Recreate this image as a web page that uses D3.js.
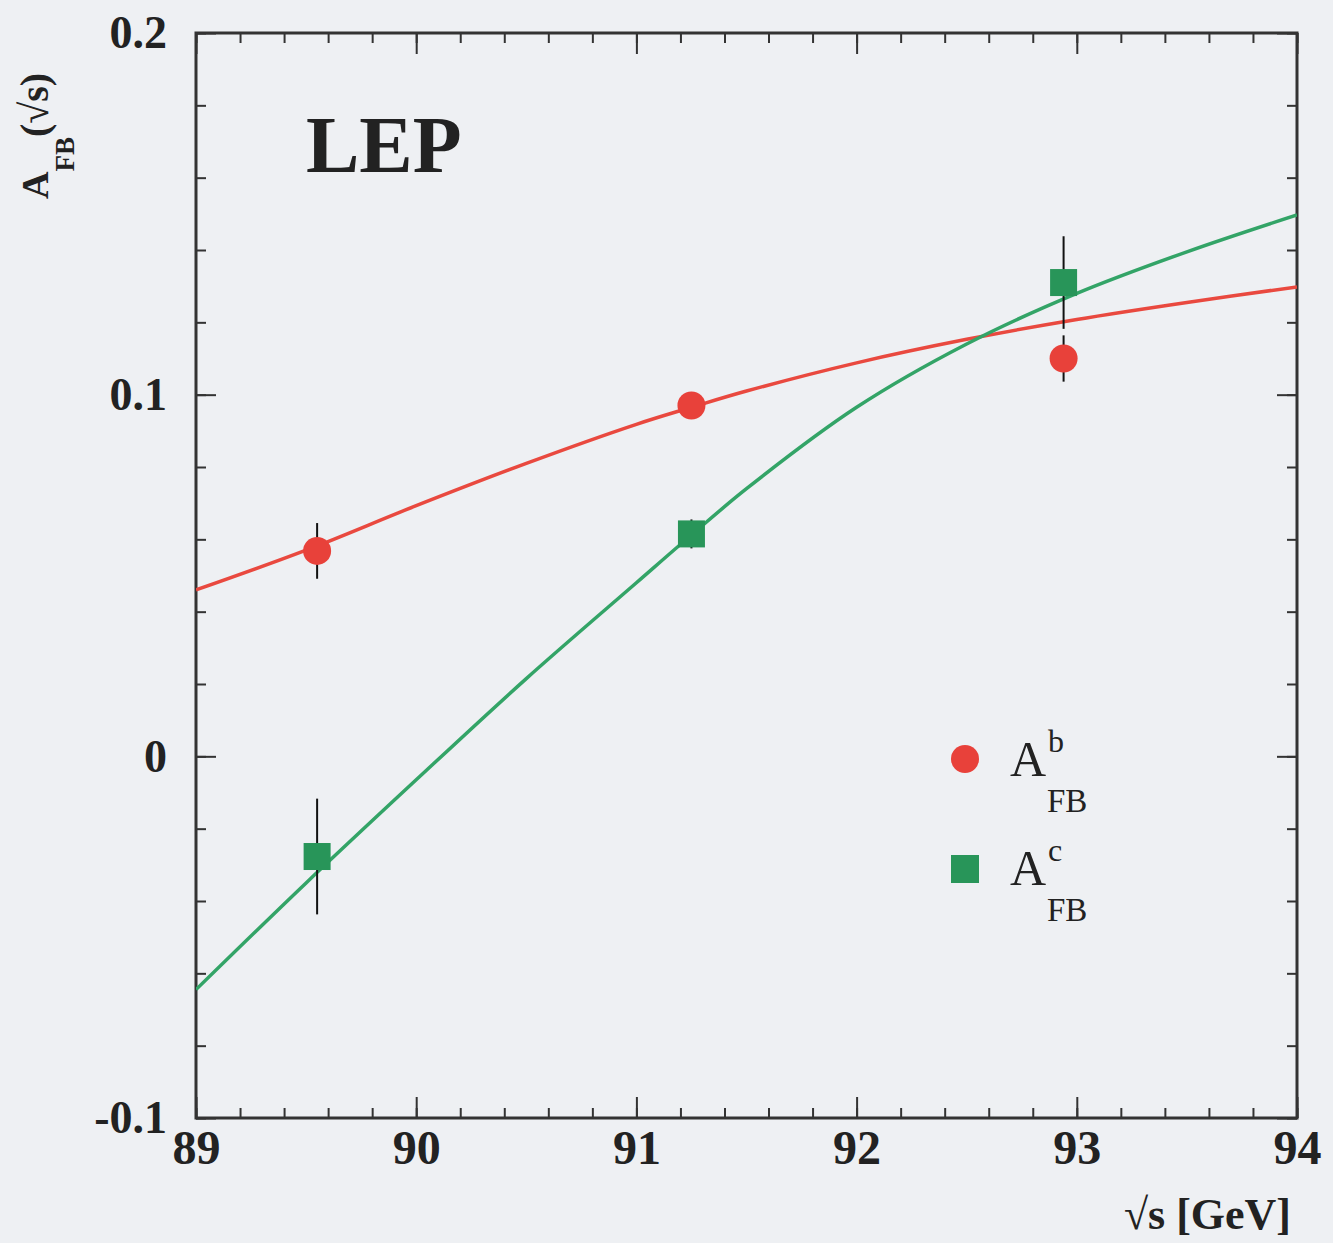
<!DOCTYPE html>
<html>
<head>
<meta charset="utf-8">
<script src="https://cdn.jsdelivr.net/npm/d3@7"></script>
<style>
  html, body { margin: 0; padding: 0; background: #eef0f3; }
  svg { display: block; }
  text { font-family: "Liberation Serif", "Times New Roman", serif; fill: #222; }
</style>
</head>
<body>
<svg id="chart" width="1333" height="1243"></svg>
<script>
// ---- data ----
const xDomain = [89, 94];
const yDomain = [-0.1, 0.2];
const xTickValues = [89, 90, 91, 92, 93, 94];
const xTickLabels = ["89", "90", "91", "92", "93", "94"];
const yTickValues = [-0.1, 0, 0.1, 0.2];
const yTickLabels = ["-0.1", "0", "0.1", "0.2"];

// measured points: A_FB^b (red circles)
const bEnergy = [89.55, 91.25, 92.94];
const bValue  = [0.0568, 0.0970, 0.1100];
const bError  = [0.0077, 0.0030, 0.0064];
// measured points: A_FB^c (green squares)
const cEnergy = [89.55, 91.25, 92.94];
const cValue  = [-0.0277, 0.0615, 0.1310];
const cError  = [0.0160, 0.0040, 0.0128];

// fitted curves
const curveEnergy = [89, 89.5, 90, 90.5, 91, 91.25, 91.5, 92, 92.5, 93, 93.5, 94];
const bCurve = [0.0460, 0.0570, 0.0693, 0.0810, 0.0918, 0.0965, 0.1010, 0.1088, 0.1153, 0.1208, 0.1255, 0.1298];
const cCurve = [-0.0645, -0.0350, -0.0065, 0.0215, 0.0480, 0.0612, 0.0740, 0.0965, 0.1140, 0.1280, 0.1395, 0.1497];

// ---- layout ----
const svg = d3.select("#chart");
const L = 196, R = 1297, T = 33, B = 1118;
const x = d3.scaleLinear().domain(xDomain).range([L, R]);
const y = d3.scaleLinear().domain(yDomain).range([B, T]);

const red = "#e8413a", redLine = "#e9493f";
const green = "#289559", greenLine = "#33a467";

svg.append("rect").attr("width", 1333).attr("height", 1243).attr("fill", "#eef0f3");

svg.append("defs").append("clipPath").attr("id", "plotclip")
  .append("rect").attr("x", L).attr("y", T).attr("width", R - L).attr("height", B - T);

// ---- axes (ticks inward) ----
const xMinor = x.ticks(25);
const yMinor = y.ticks(15);
const axisColor = "#333";

function styleAxis(g) {
  g.select(".domain").remove();
  g.selectAll("line").attr("stroke", axisColor).attr("stroke-width", 2);
}

// bottom
svg.append("g").attr("transform", `translate(0,${B})`)
  .call(d3.axisBottom(x).tickValues(xMinor).tickSizeInner(-10).tickSizeOuter(0).tickFormat(""))
  .call(styleAxis);
svg.append("g").attr("transform", `translate(0,${B})`)
  .call(d3.axisBottom(x).tickValues(xTickValues).tickSizeInner(-21).tickSizeOuter(0).tickPadding(12)
        .tickFormat((d, i) => xTickLabels[i]))
  .call(styleAxis)
  .call(g => g.selectAll("text").attr("font-size", 48).attr("font-weight", "bold")
        .attr("font-family", "Liberation Serif, serif").attr("fill", "#222"));
// top
svg.append("g").attr("transform", `translate(0,${T})`)
  .call(d3.axisTop(x).tickValues(xMinor).tickSizeInner(-10).tickSizeOuter(0).tickFormat(""))
  .call(styleAxis);
svg.append("g").attr("transform", `translate(0,${T})`)
  .call(d3.axisTop(x).tickValues(xTickValues).tickSizeInner(-21).tickSizeOuter(0).tickFormat(""))
  .call(styleAxis);
// left
svg.append("g").attr("transform", `translate(${L},0)`)
  .call(d3.axisLeft(y).tickValues(yMinor).tickSizeInner(-10).tickSizeOuter(0).tickFormat(""))
  .call(styleAxis);
svg.append("g").attr("transform", `translate(${L},0)`)
  .call(d3.axisLeft(y).tickValues(yTickValues).tickSizeInner(-20).tickSizeOuter(0).tickPadding(29)
        .tickFormat((d, i) => yTickLabels[i]))
  .call(styleAxis)
  .call(g => g.selectAll("text").attr("font-size", 46).attr("font-weight", "bold")
        .attr("font-family", "Liberation Serif, serif").attr("fill", "#222"));
// right
svg.append("g").attr("transform", `translate(${R},0)`)
  .call(d3.axisRight(y).tickValues(yMinor).tickSizeInner(-10).tickSizeOuter(0).tickFormat(""))
  .call(styleAxis);
svg.append("g").attr("transform", `translate(${R},0)`)
  .call(d3.axisRight(y).tickValues(yTickValues).tickSizeInner(-20).tickSizeOuter(0).tickFormat(""))
  .call(styleAxis);

// frame
svg.append("rect").attr("x", L).attr("y", T).attr("width", R - L).attr("height", B - T)
  .attr("fill", "none").attr("stroke", axisColor).attr("stroke-width", 3);

// ---- curves ----
const plot = svg.append("g").attr("clip-path", "url(#plotclip)");
const line = d3.line().x(d => x(d[0])).y(d => y(d[1])).curve(d3.curveCatmullRom.alpha(0.5));
plot.append("path").datum(curveEnergy.map((e, i) => [e, bCurve[i]]))
  .attr("d", line).attr("fill", "none").attr("stroke", redLine).attr("stroke-width", 3.5);
plot.append("path").datum(curveEnergy.map((e, i) => [e, cCurve[i]]))
  .attr("d", line).attr("fill", "none").attr("stroke", greenLine).attr("stroke-width", 3.5);

// ---- error bars ----
function errBars(E, V, S) {
  plot.selectAll(null).data(E.map((e, i) => ({ e, v: V[i], s: S[i] }))).enter().append("line")
    .attr("x1", d => x(d.e)).attr("x2", d => x(d.e))
    .attr("y1", d => y(d.v - d.s)).attr("y2", d => y(d.v + d.s))
    .attr("stroke", "#111").attr("stroke-width", 2);
}
errBars(cEnergy, cValue, cError);
errBars(bEnergy, bValue, bError);

// ---- markers ----
const sq = 27;
plot.selectAll(null).data(cEnergy.map((e, i) => ({ e, v: cValue[i] }))).enter().append("rect")
  .attr("x", d => x(d.e) - sq / 2).attr("y", d => y(d.v) - sq / 2)
  .attr("width", sq).attr("height", sq).attr("fill", green);
plot.selectAll(null).data(bEnergy.map((e, i) => ({ e, v: bValue[i] }))).enter().append("circle")
  .attr("cx", d => x(d.e)).attr("cy", d => y(d.v)).attr("r", 14).attr("fill", red);

// ---- LEP label ----
svg.append("text").attr("x", 306).attr("y", 172).attr("font-size", 80).attr("font-weight", "bold")
  .text("LEP");

// ---- legend ----
svg.append("circle").attr("cx", 965).attr("cy", 759).attr("r", 14).attr("fill", red);
svg.append("rect").attr("x", 965 - 14).attr("y", 869 - 14).attr("width", 28).attr("height", 28).attr("fill", green);
function legendLabel(yBase, sup) {
  svg.append("text").attr("x", 1010).attr("y", yBase).attr("font-size", 50).text("A");
  svg.append("text").attr("x", 1048).attr("y", yBase - 24).attr("font-size", 32).text(sup);
  svg.append("text").attr("x", 1047).attr("y", yBase + 36).attr("font-size", 33).text("FB");
}
legendLabel(776, "b");
legendLabel(885, "c");

// ---- axis titles ----
svg.append("text").attr("x", 1291).attr("y", 1229).attr("text-anchor", "end")
  .attr("font-size", 44).attr("font-weight", "bold").text("√s [GeV]");

const yt = svg.append("text").attr("transform", "translate(48,199) rotate(-90)")
  .attr("font-weight", "bold");
yt.append("tspan").attr("font-size", 38).text("A");
yt.append("tspan").attr("font-size", 27).attr("dy", 26).text("FB");
yt.append("tspan").attr("font-size", 40).attr("dy", -26).text("(√s)");
</script>
</body>
</html>
